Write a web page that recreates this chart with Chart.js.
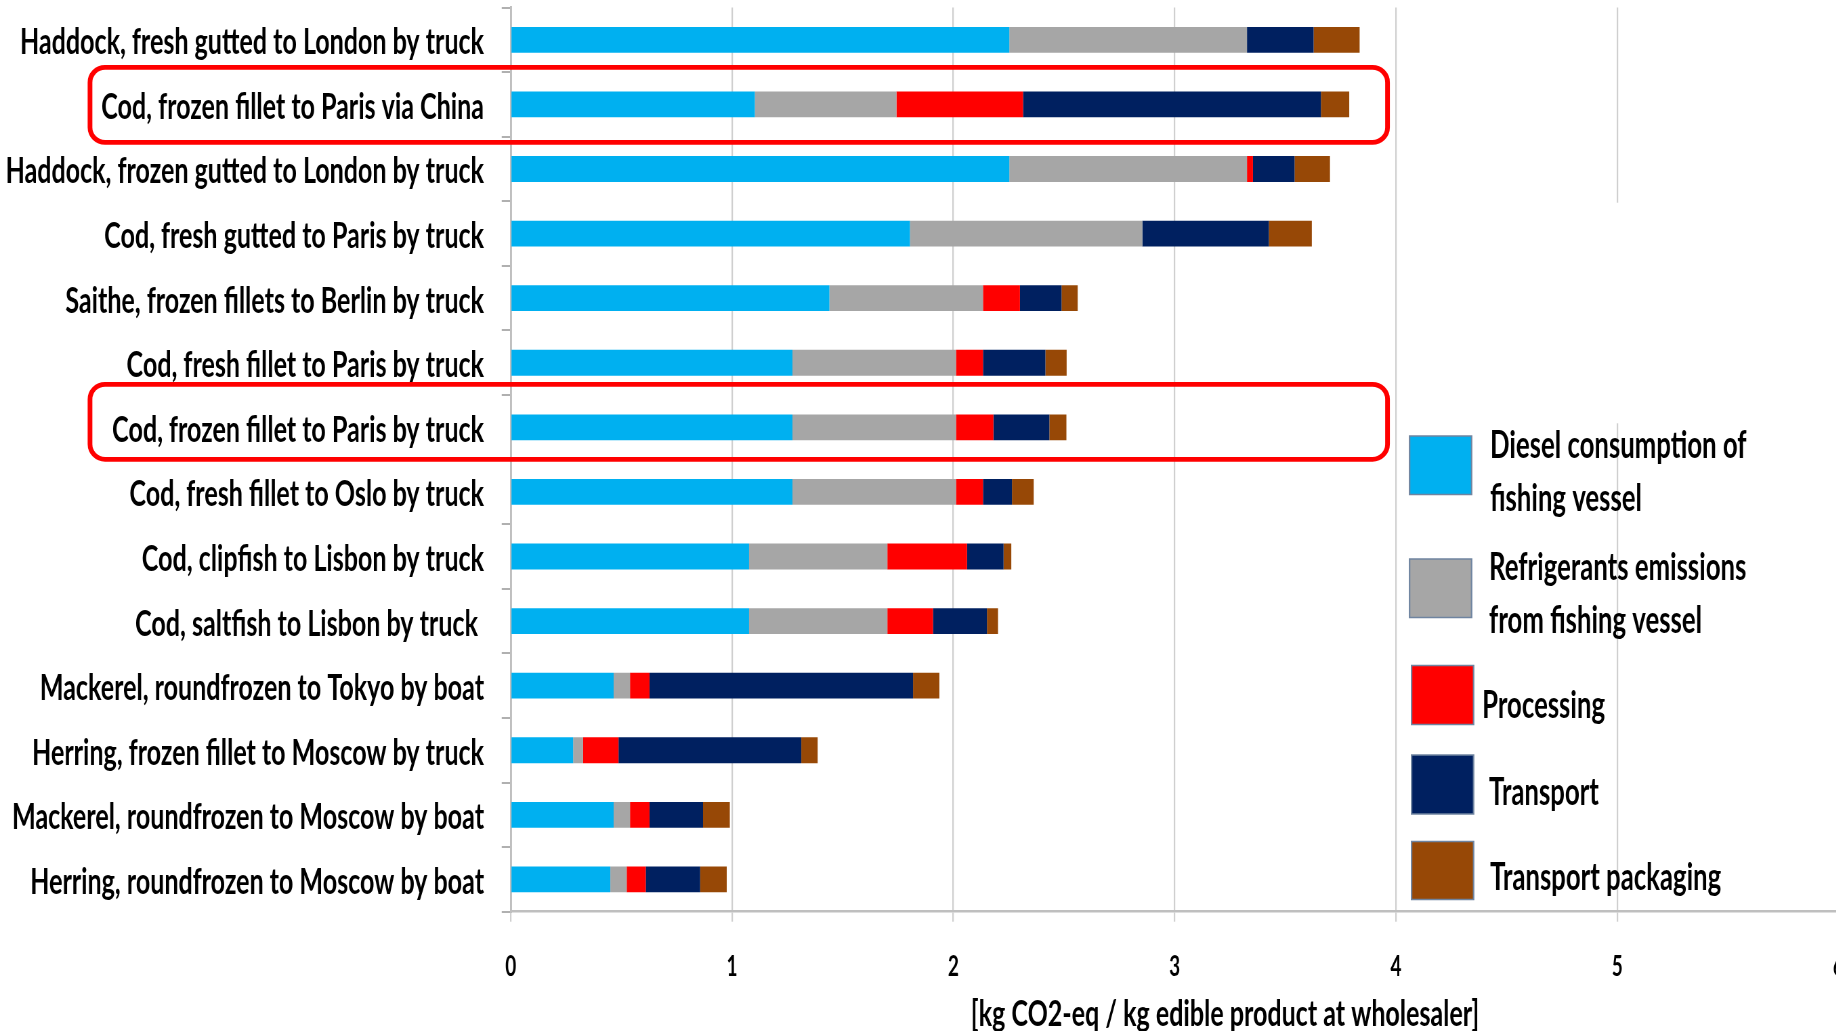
<!DOCTYPE html>
<html><head><meta charset="utf-8">
<script src="https://cdn.jsdelivr.net/npm/chart.js@4.4.1/dist/chart.umd.min.js"></script>
<style>
html,body{margin:0;padding:0;background:#fff;overflow:hidden;width:1836px;height:1031px}
#c{display:block}
</style></head>
<body><canvas id="c"></canvas>
<script>
// ---------- data ----------
const categories = [
  "Haddock, fresh gutted to London by truck",
  "Cod, frozen fillet to Paris via China",
  "Haddock, frozen gutted to London by truck",
  "Cod, fresh gutted to Paris by truck",
  "Saithe, frozen fillets to Berlin by truck",
  "Cod, fresh fillet to Paris by truck",
  "Cod, frozen fillet to Paris by truck",
  "Cod, fresh fillet to Oslo by truck",
  "Cod, clipfish to Lisbon by truck",
  "Cod, saltfish to Lisbon by truck ",
  "Mackerel, roundfrozen to Tokyo by boat",
  "Herring, frozen fillet to Moscow by truck",
  "Mackerel, roundfrozen to Moscow by boat",
  "Herring, roundfrozen to Moscow by boat"
];
const diesel      = [2.253, 1.103, 2.253, 1.804, 1.440, 1.273, 1.273, 1.273, 1.077, 1.077, 0.465, 0.282, 0.465, 0.450];
const refrigerant = [1.074, 0.640, 1.074, 1.050, 0.694, 0.739, 0.739, 0.739, 0.625, 0.625, 0.074, 0.045, 0.074, 0.074];
const processing  = [0.000, 0.572, 0.027, 0.000, 0.167, 0.122, 0.169, 0.122, 0.360, 0.206, 0.088, 0.160, 0.088, 0.086];
const transport   = [0.301, 1.346, 0.188, 0.572, 0.188, 0.282, 0.253, 0.131, 0.165, 0.244, 1.191, 0.826, 0.242, 0.246];
const packaging   = [0.208, 0.128, 0.160, 0.194, 0.073, 0.096, 0.077, 0.098, 0.035, 0.050, 0.119, 0.074, 0.121, 0.120];
const seriesLabels = [
  ["Diesel consumption of", "fishing vessel"],
  ["Refrigerants emissions", "from fishing vessel"],
  ["Processing"],
  ["Transport"],
  ["Transport packaging"]
];
const xTickLabels = ["0", "1", "2", "3", "4", "5", "6"];
const axisTitle = "[kg CO2-eq / kg edible product at wholesaler]";
const highlighted = [1, 6];

// ---------- layout (horizontal squash like the reference) ----------
const CSSW = 1870, H = 1031;
const LABEL_SIZE = 37;
const m = document.createElement('canvas').getContext('2d');
m.font = 'bold ' + LABEL_SIZE + 'px Lato';
const S = 464 / m.measureText(categories[0]).width;
const X = v => v / S;
const canvas = document.getElementById('c');
canvas.width = Math.round(CSSW / S);
canvas.height = H;
canvas.style.width = CSSW + 'px';
canvas.style.height = H + 'px';

const colors = ['#00B0F0', '#A6A6A6', '#FF0000', '#002060', '#974806'];
const seriesData = [diesel, refrigerant, processing, transport, packaging];

const boxCfg = [{top: -37, bottom: 38}, {top: -43, bottom: 32}];
const legendCfg = [
  {sw: [1409.5, 436, 62, 58.5], tx: 1490, bl: [458, 511]},
  {sw: [1409.5, 559, 62, 58.5], tx: 1489, bl: [580, 632.5]},
  {sw: [1411.5, 665.5, 62, 59], tx: 1482, bl: [717.5]},
  {sw: [1411.5, 755, 62, 59], tx: 1489, bl: [804.5]},
  {sw: [1411.5, 841.5, 62, 58], tx: 1490, bl: [890]}
];

function rr(ctx, x, y, w, h, r) {
  ctx.beginPath();
  ctx.moveTo(x + r, y);
  ctx.arcTo(x + w, y, x + w, y + h, r);
  ctx.arcTo(x + w, y + h, x, y + h, r);
  ctx.arcTo(x, y + h, x, y, r);
  ctx.arcTo(x, y, x + w, y, r);
  ctx.closePath();
}

const decor = {
  id: 'decor',
  beforeDraw(chart) {
    const c = chart.ctx;
    c.save(); c.fillStyle = '#fff'; c.fillRect(0, 0, chart.width, chart.height); c.restore();
  },
  afterDatasetsDraw(chart) {
    const c = chart.ctx, ys = chart.scales.y, xs = chart.scales.x;
    c.save();
    c.scale(1 / S, 1);
    c.strokeStyle = '#FF0000';
    c.lineWidth = 4.7;
    const right = xs.getPixelForValue(3.962) * S;
    highlighted.forEach((idx, k) => {
      const yc = ys.getPixelForValue(idx);
      const t = yc + boxCfg[k].top, b = yc + boxCfg[k].bottom;
      rr(c, 90, t, right - 90, b - t, 15);
      c.stroke();
    });
    c.restore();
  },
  afterDraw(chart) {
    const c = chart.ctx;
    c.save();
    c.fillStyle = '#fff';
    c.fillRect(X(1400), 202.7, X(CSSW - 1400), 220.6);
    chart.data.datasets.forEach((ds, i) => {
      const L = legendCfg[i];
      c.save();
      c.scale(1 / S, 1);
      c.fillStyle = ds.backgroundColor;
      c.fillRect(L.sw[0], L.sw[1], L.sw[2], L.sw[3]);
      c.strokeStyle = '#6f84a0';
      c.lineWidth = 1.5;
      c.strokeRect(L.sw[0], L.sw[1], L.sw[2], L.sw[3]);
      c.restore();
      c.fillStyle = '#000';
      c.font = 'bold 38px Lato';
      c.textAlign = 'left';
      c.textBaseline = 'alphabetic';
      seriesLabels[i].forEach((line, j) => c.fillText(line, X(L.tx), L.bl[j]));
    });
    c.font = 'bold 37px Lato';
    c.textAlign = 'center';
    c.textBaseline = 'alphabetic';
    c.fillStyle = '#000';
    c.fillText(axisTitle, X(1225), 1026);
    c.restore();
  }
};

new Chart(canvas, {
  type: 'bar',
  data: {
    labels: categories,
    datasets: seriesData.map((d, i) => ({
      label: seriesLabels[i].join(' '),
      data: d,
      backgroundColor: colors[i],
      borderWidth: 0,
      barPercentage: 0.4,
      categoryPercentage: 1.0
    }))
  },
  options: {
    indexAxis: 'y',
    responsive: false,
    devicePixelRatio: 1,
    animation: false,
    layout: {padding: {left: 0, top: 7.5, right: X(CSSW - 1838.5), bottom: 0}},
    plugins: {legend: {display: false}, tooltip: {enabled: false}, title: {display: false}},
    scales: {
      y: {
        type: 'category',
        stacked: true,
        offset: true,
        grid: {offset: true, drawOnChartArea: false, drawTicks: true, tickLength: X(9), color: '#b0b0b0', lineWidth: 2},
        border: {display: true, color: '#bfbfbf', width: X(2)},
        ticks: {autoSkip: false, color: '#000', padding: X(17.7), labelOffset: 2.5, font: {family: 'Lato', size: LABEL_SIZE, weight: 'bold'}},
        afterFit(s) { s.width = X(510.7); s.paddingTop = 0; s.paddingBottom = 0; }
      },
      x: {
        type: 'linear',
        stacked: true,
        min: 0, max: 6,
        grid: {color: '#cfcfcf', lineWidth: X(1.5), drawTicks: true, tickLength: 10},
        border: {display: true, color: '#bfbfbf', width: 2.5},
        ticks: {
          stepSize: 1, color: '#000', padding: 28, maxRotation: 0, autoSkip: false,
          font: {family: 'Lato', size: 28, weight: 'bold'},
          callback: (v, i) => xTickLabels[i]
        },
        afterFit(s) { s.height = H - 911.7; s.paddingLeft = 0; s.paddingRight = 0; }
      }
    }
  },
  plugins: [decor]
});
</script>
</body></html>
